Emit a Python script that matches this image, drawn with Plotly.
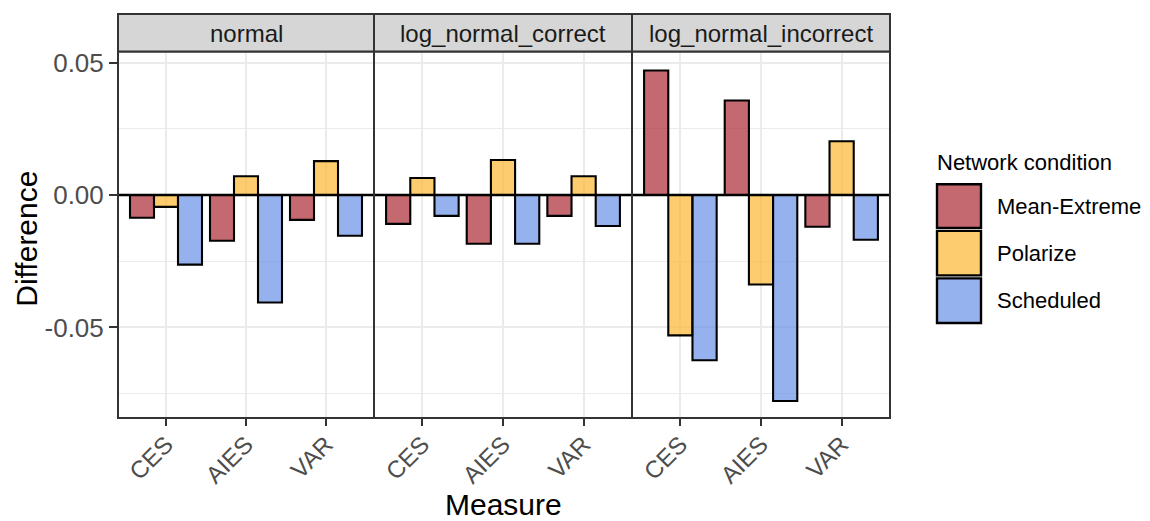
import plotly.graph_objects as go
from plotly.subplots import make_subplots

panels = ["normal", "log_normal_correct", "log_normal_incorrect"]
measures = ["CES", "AIES", "VAR"]
conditions = ["Mean-Extreme", "Polarize", "Scheduled"]
# values[panel][condition] -> list over measures
mean_extreme = {
    "normal": [-0.0086, -0.0173, -0.0094],
    "log_normal_correct": [-0.0109, -0.0184, -0.0079],
    "log_normal_incorrect": [0.0470, 0.0357, -0.0120],
}
polarize = {
    "normal": [-0.0045, 0.0071, 0.0128],
    "log_normal_correct": [0.0064, 0.0132, 0.0071],
    "log_normal_incorrect": [-0.0530, -0.0338, 0.0203],
}
scheduled = {
    "normal": [-0.0263, -0.0406, -0.0154],
    "log_normal_correct": [-0.0079, -0.0184, -0.0117],
    "log_normal_incorrect": [-0.0624, -0.0778, -0.0169],
}
series = [mean_extreme, polarize, scheduled]
colors = ["rgba(171,42,51,0.7)", "rgba(252,182,48,0.7)", "rgba(105,145,231,0.7)"]
ytickvals = [-0.05, 0.0, 0.05]
yticktext = ["-0.05", "0.00", "0.05"]

W, H = 1150, 521
L, R, T, B = 118, 260, 8, 103
PW, PH = W - L - R, H - T - B
def px(x):
    return (x - L) / PW
def py(y):
    return (H - B - y) / PH

FONT = "Liberation Sans, Arial, sans-serif"
fig = make_subplots(rows=1, cols=3, shared_yaxes=True, horizontal_spacing=0)

edges = [118, 374, 632, 890]
top_plot = py(48)
for i, p in enumerate(panels):
    for s, name, col in zip(series, conditions, colors):
        fig.add_trace(go.Bar(x=measures, y=s[p], name=name, marker=dict(color=col, line=dict(color="black", width=2.1)),
                             showlegend=False), row=1, col=i + 1)
    xa = "xaxis" if i == 0 else f"xaxis{i+1}"
    fig.layout[xa].update(domain=[px(edges[i]), px(edges[i + 1])])
    xr = f"x{'' if i == 0 else i+1} domain"
    fig.add_shape(type="line", xref=xr, yref="y", x0=0, x1=1, y0=0, y1=0,
                  line=dict(color="black", width=2.4), layer="above")
    fig.add_shape(type="rect", xref="paper", yref="paper", x0=px(edges[i]), x1=px(edges[i + 1]), y0=0, y1=top_plot,
                  fillcolor="rgba(0,0,0,0)", line=dict(color="#333333", width=2), layer="above")
    fig.add_shape(type="rect", xref="paper", yref="paper", x0=px(edges[i]), x1=px(edges[i + 1]), y0=top_plot, y1=py(10),
                  fillcolor="#d6d6d6", line=dict(color="#333333", width=2), layer="above")
    fig.add_annotation(x=(px(edges[i]) + px(edges[i + 1])) / 2, y=py(30), xref="paper", yref="paper",
                       xanchor="center", yanchor="middle",
                       text=p, showarrow=False, font=dict(family=FONT, size=24, color="#1a1a1a"))

fig.update_layout(barmode="group", bargap=0.1, bargroupgap=0, width=W, height=H,
                  margin=dict(l=L, r=R, t=T, b=B), plot_bgcolor="white", paper_bgcolor="white",
                  font=dict(family=FONT), showlegend=False)
fig.update_xaxes(showline=False, showgrid=True, gridcolor="#ebebeb",
                 gridwidth=2.2, ticks="outside", ticklen=7, tickwidth=2.2, tickcolor="#333333", tickangle=-45,
                 ticklabelstandoff=-5,
                 tickfont=dict(family=FONT, size=24, color="#4d4d4d"), range=[-0.6, 2.6], zeroline=False)
fig.update_yaxes(showline=False, showgrid=True, gridcolor="#ebebeb",
                 gridwidth=2.2, range=[-0.08421, 0.05414], tickvals=ytickvals, ticktext=yticktext,
                 ticks="outside", ticklen=8, tickwidth=2.2, tickcolor="#333333", zeroline=False,
                 tickfont=dict(family=FONT, size=26, color="#4d4d4d"), domain=[0, top_plot],
                 minor=dict(tickvals=[-0.075, -0.025, 0.025], showgrid=True, gridcolor="#ebebeb", gridwidth=1.2, ticks=""))
fig.update_yaxes(ticks="", row=1, col=2)
fig.update_yaxes(ticks="", row=1, col=3)

fig.add_annotation(x=px(503), y=py(505), xref="paper", yref="paper", text="Measure", showarrow=False,
                   xanchor="center", yanchor="middle", font=dict(family=FONT, size=30, color="black"))
fig.add_annotation(x=px(27), y=py(237), xref="paper", yref="paper", text="Difference", showarrow=False, textangle=-90,
                   xanchor="center", yanchor="middle", font=dict(family=FONT, size=30, color="black"))

fig.add_annotation(x=px(935), y=py(160), xref="paper", yref="paper", text="Network condition", showarrow=False,
                   xanchor="left", yanchor="middle", font=dict(family=FONT, size=22, color="black"))
key_y = [(182, 226), (229, 274), (277, 322)]
for (y0, y1), name, col in zip(key_y, conditions, colors):
    fig.add_shape(type="rect", xref="paper", yref="paper", x0=px(937), x1=px(981), y0=py(y1), y1=py(y0),
                  fillcolor=col, line=dict(color="black", width=2.4))
    fig.add_annotation(x=px(995), y=py((y0 + y1) / 2), xref="paper", yref="paper", text=name, showarrow=False,
                       xanchor="left", yanchor="middle", font=dict(family=FONT, size=22, color="black"))

fig.write_html("out.html")
